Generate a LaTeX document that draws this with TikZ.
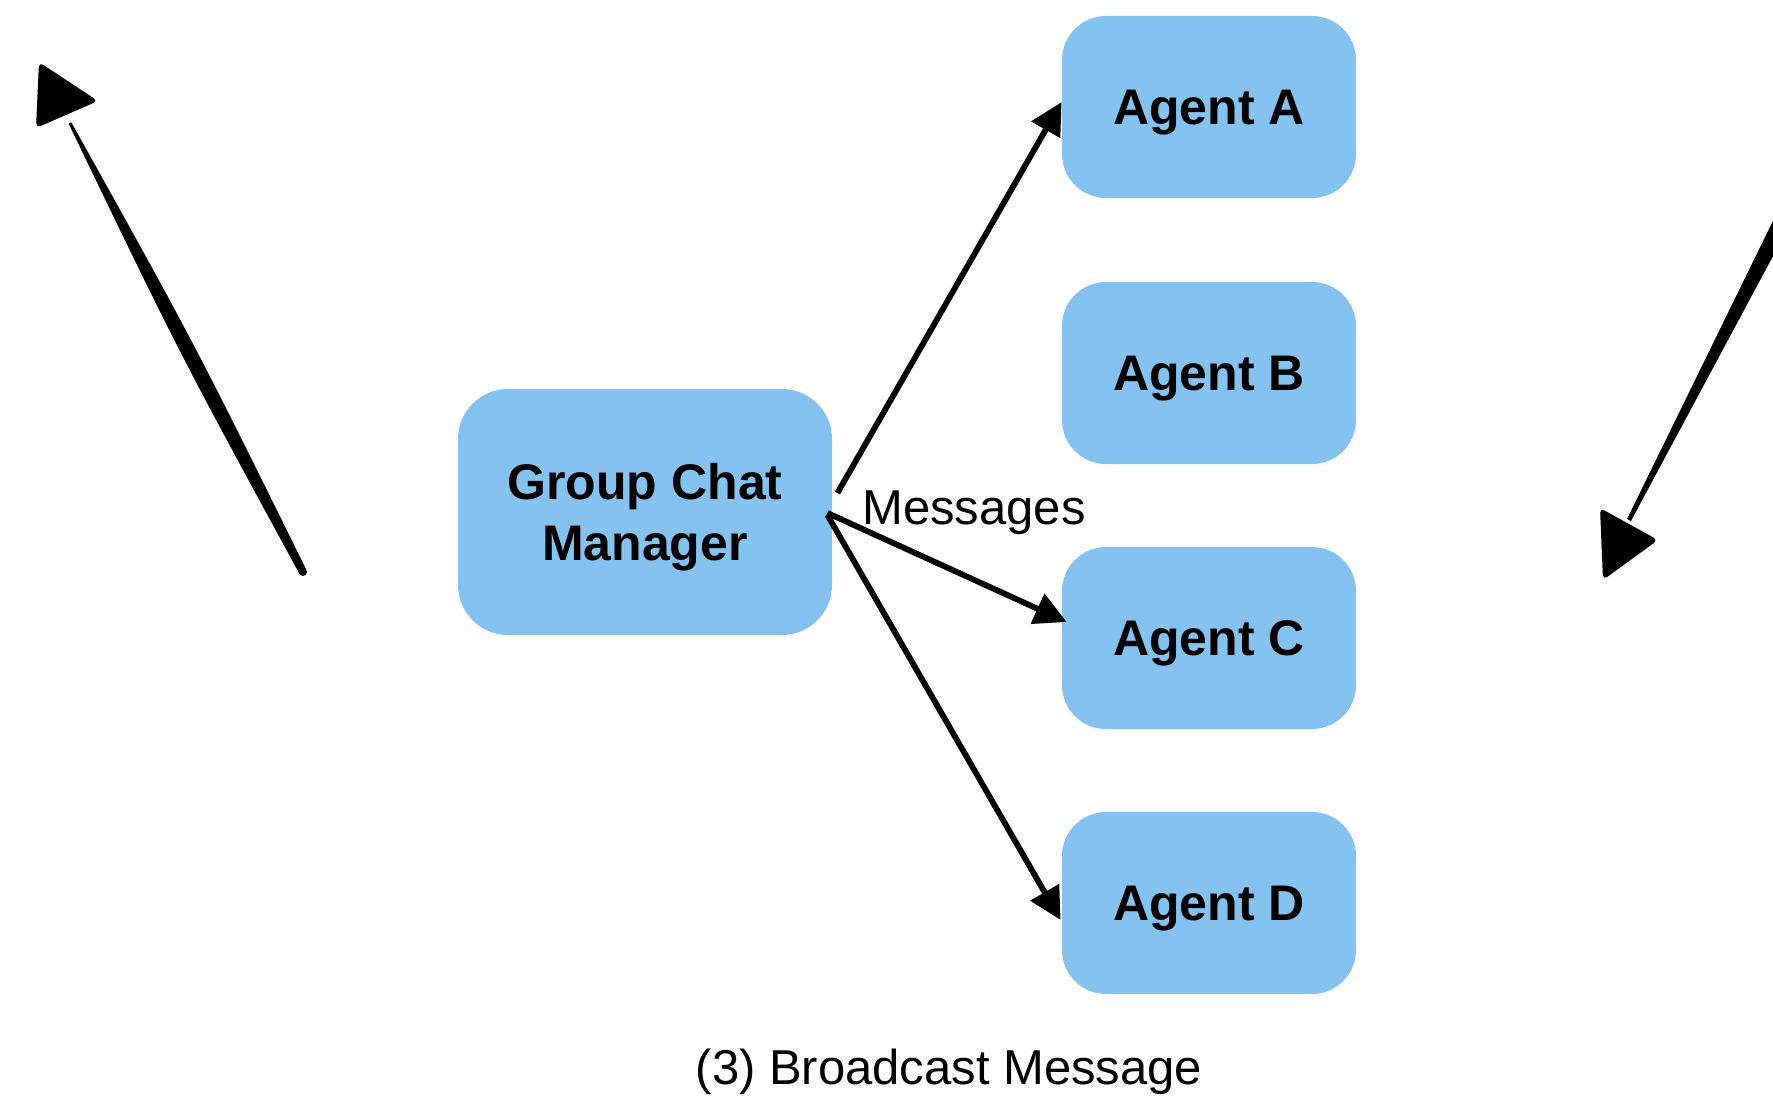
\documentclass[tikz,border=0pt]{standalone}
\usepackage{fontspec}
\setmainfont{Liberation Sans}
\usetikzlibrary{arrows.meta,calc}
\definecolor{agentblue}{RGB}{132,194,241}
\begin{document}
\begin{tikzpicture}[x=0.5pt,y=-0.5pt,
  agent/.style={rectangle, rounded corners=22pt, fill=agentblue,
    minimum width=147pt, minimum height=91pt, inner sep=0pt,
    text depth=0pt,
    font=\fontsize{25}{30.5}\selectfont\bfseries},
  manager/.style={agent, minimum width=187pt, minimum height=123pt,
    rounded corners=25pt, align=center},
  link/.style={line width=2.9pt, -{Triangle[length=16pt,width=16pt]}},
  label/.style={font=\fontsize{24.5}{29}\selectfont, inner sep=0pt},
  brush/.style={fill=black},
  brushhead/.style={fill=black, rounded corners=2.5pt}]
\useasboundingbox (0,0) rectangle (1773,1097);
\clip (0,0) rectangle (1773,1097);

% central manager and the four agents
\node[manager] (gcm) at (645,512) {Group Chat\\Manager};
\node[agent] (a) at (1209,107) {Agent A};
\node[agent] (b) at (1209,373) {Agent B};
\node[agent] (c) at (1209,638) {Agent C};
\node[agent] (d) at (1209,903) {Agent D};

% broadcast connectors
\draw[link] ($(gcm.east)+(5,-19)$) -- ($(a.west)+(0,-5)$);
\draw[link] ($(gcm.east)+(-5,1)$) -- ($(c.west)+(5,-16)$);
\draw[link] ($(gcm.east)+(-5,3)$) -- ($(d.west)+(-1,17)$);
\node[label, anchor=base west] (msg) at (862,524) {Messages};

% caption
\node[label, anchor=base] (caption) at (949,1084) {(3) Broadcast Message};

% left brush stroke arrow
\coordinate (lt) at (303,572);
\coordinate (lh) at (70,123);
\coordinate (ltm) at ($(lt)!0.5!(lh)$);
\fill[brush] ($(lt)!2pt!90:(lh)$)
  .. controls ($(ltm)!4.5pt!90:(lh)$) .. ($(lh)!0.75pt!-90:(lt)$)
  -- ($(lh)!0.75pt!90:(lt)$)
  .. controls ($(ltm)!4.5pt!-90:(lh)$) .. ($(lt)!2pt!-90:(lh)$) -- cycle;
\fill[brush] (lt) circle (2pt);
\fill[brushhead] (39,62) -- (98,101) -- (36,128) -- cycle;

% right brush stroke arrow
\coordinate (rt) at (1792,202);
\coordinate (rh) at (1629,520);
\fill[brush] ($(rt)!4.4pt!90:(rh)$) -- ($(rh)!1.1pt!-90:(rt)$)
  -- ($(rh)!1.1pt!90:(rt)$) -- ($(rt)!4.4pt!-90:(rh)$) -- cycle;
\fill[brushhead] (1600,508) -- (1658,540) -- (1603,580) -- cycle;
\end{tikzpicture}
\end{document}
